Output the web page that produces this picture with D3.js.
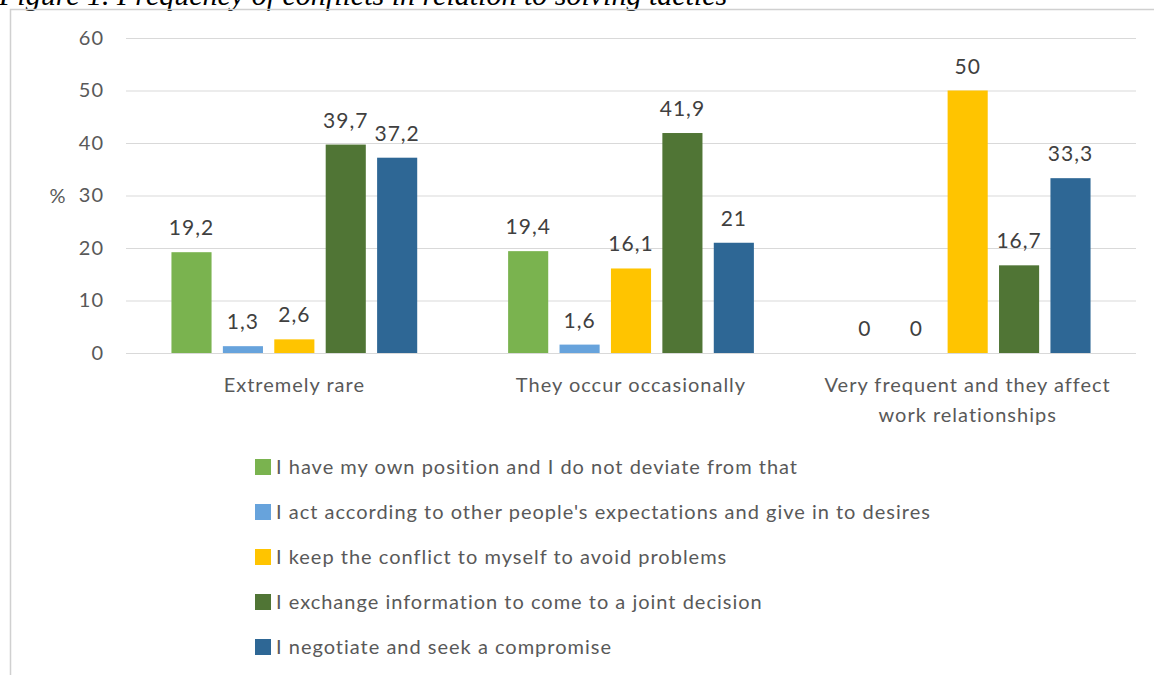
<!DOCTYPE html>
<html>
<head>
<meta charset="utf-8">
<script src="https://cdn.jsdelivr.net/npm/d3@7"></script>
<style>
  html, body { margin: 0; padding: 0; background: #fff; overflow: hidden; }
</style>
</head>
<body>
<div id="chart"></div>
<script>
// categories on the x axis (third one wraps to two lines)
const categories = [
  ["Extremely rare"],
  ["They occur occasionally"],
  ["Very frequent and they affect", "work relationships"]
];
const seriesNames = [
  "I have my own position and I do not deviate from that",
  "I act according to other people's expectations and give in to desires",
  "I keep the conflict to myself to avoid problems",
  "I exchange information to come to a joint decision",
  "I negotiate and seek a compromise"
];
// values[series][category]
const values = [
  [19.2, 19.4, 0],
  [1.3, 1.6, 0],
  [2.6, 16.1, 50],
  [39.7, 41.9, 16.7],
  [37.2, 21, 33.3]
];
const yTicks = [0, 10, 20, 30, 40, 50, 60];
const colors = ["#7ab34f", "#67a3dc", "#ffc400", "#507535", "#2e6795"];

const W = 1154, H = 675;
const plot = { left: 126, right: 1136, top: 38, bottom: 353 };

const svg = d3.select("#chart").append("svg")
  .attr("width", W)
  .attr("height", H)
  .attr("font-family", "Lato, 'Open Sans', sans-serif")
  .attr("letter-spacing", 1);

// caption, cut off by the top edge as in the source
svg.append("text")
  .attr("x", -1)
  .attr("y", 5)
  .attr("font-family", "'Liberation Serif', serif")
  .attr("font-style", "italic")
  .attr("font-size", 30)
  .attr("letter-spacing", 0)
  .attr("fill", "#000")
  .text("Figure 1. Frequency of conflicts in relation to solving tactics");

// chart frame
svg.append("rect")
  .attr("x", 10.5).attr("y", 9.5)
  .attr("width", 1200).attr("height", 700)
  .attr("fill", "none")
  .attr("stroke", "#d0d0d0")
  .attr("stroke-width", 1.5);

const y = d3.scaleLinear().domain([0, 60]).range([plot.bottom, plot.top]);
const x0 = d3.scaleBand()
  .domain(d3.range(categories.length))
  .range([plot.left, plot.right])
  .paddingInner(0.27)
  .paddingOuter(0.135);
const x1 = d3.scaleBand()
  .domain(d3.range(seriesNames.length))
  .range([0, x0.bandwidth()])
  .paddingInner(0.22);

// gridlines
const yAxis = d3.axisLeft(y).tickValues(yTicks).tickSize(-(plot.right - plot.left)).tickPadding(22);
const ga = svg.append("g").attr("transform", `translate(${plot.left},0)`).call(yAxis);
ga.select(".domain").remove();
ga.selectAll(".tick line").attr("stroke", "#d9d9d9").attr("stroke-width", 1.2);
ga.selectAll(".tick text")
  .attr("fill", "#595959")
  .attr("font-size", 20)
  .attr("font-family", "Lato, sans-serif");

svg.append("text")
  .attr("x", 58).attr("y", 196)
  .attr("dy", "0.35em")
  .attr("text-anchor", "middle")
  .attr("fill", "#595959")
  .attr("font-size", 20)
  .text("%");

// bars
const groups = svg.append("g").selectAll("g")
  .data(categories.map((c, i) => i))
  .join("g")
  .attr("transform", i => `translate(${x0(i)},0)`);

groups.selectAll("rect")
  .data(ci => values.map((v, si) => ({ si, v: v[ci] })))
  .join("rect")
  .attr("x", d => x1(d.si))
  .attr("y", d => y(d.v))
  .attr("width", x1.bandwidth())
  .attr("height", d => y(0) - y(d.v))
  .attr("fill", d => colors[d.si]);

groups.selectAll("text")
  .data(ci => values.map((v, si) => ({ si, v: v[ci] })))
  .join("text")
  .attr("x", d => x1(d.si) + x1.bandwidth() / 2)
  .attr("y", d => y(d.v) - 17)
  .attr("text-anchor", "middle")
  .attr("fill", "#404040")
  .attr("font-size", 21)
  .text(d => String(d.v).replace(".", ","));

// category labels
const xl = svg.append("g").selectAll("text")
  .data(categories)
  .join("text")
  .attr("x", (d, i) => x0(i) + x0.bandwidth() / 2)
  .attr("y", 392)
  .attr("text-anchor", "middle")
  .attr("fill", "#595959")
  .attr("font-size", 20);
xl.selectAll("tspan")
  .data(d => d)
  .join("tspan")
  .attr("x", function () { return this.parentNode.getAttribute("x"); })
  .attr("dy", (d, i) => i === 0 ? 0 : 30)
  .text(d => d);

// legend
const legend = svg.append("g").selectAll("g")
  .data(seriesNames)
  .join("g")
  .attr("transform", (d, i) => `translate(255,${467 + i * 45})`);
legend.append("rect")
  .attr("x", 0).attr("y", -8)
  .attr("width", 16).attr("height", 16)
  .attr("fill", (d, i) => colors[i]);
legend.append("text")
  .attr("x", 21).attr("y", 0)
  .attr("dy", "0.35em")
  .attr("fill", "#595959")
  .attr("font-size", 20)
  .text(d => d);
</script>
</body>
</html>
